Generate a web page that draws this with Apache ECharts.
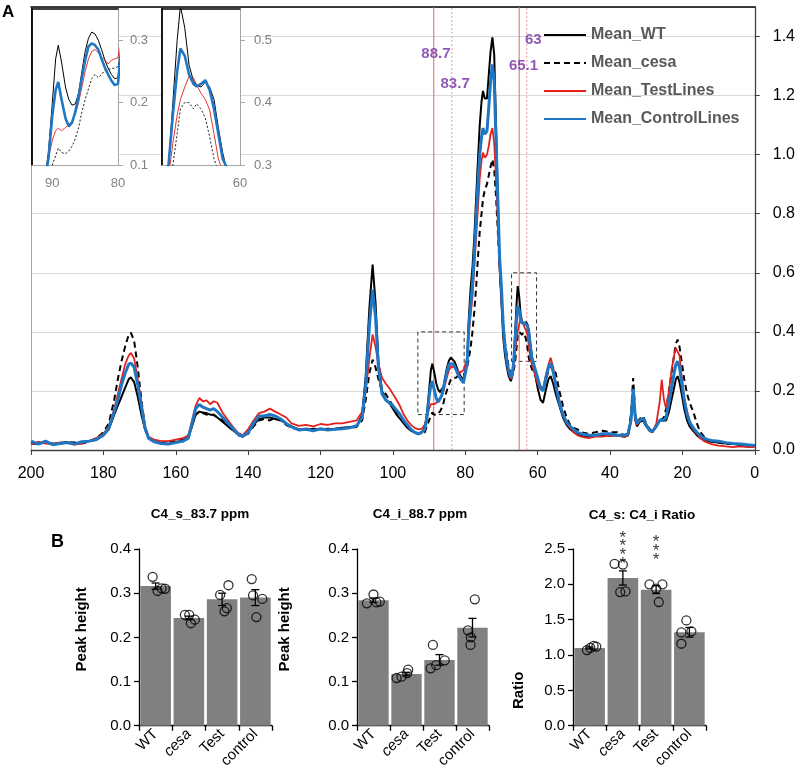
<!DOCTYPE html>
<html>
<head>
<meta charset="UTF-8">
<title>Spectra and peak heights</title>
<script src="https://cdn.jsdelivr.net/npm/echarts@6/dist/echarts.min.js"></script>
<style>
    html, body { margin: 0; padding: 0; background: #fff; }
    #main { width: 798px; height: 771px; }
</style>
</head>
<body>
<div id="main"></div>
<script>
// chemical shift (ppm), shared by the four mean spectra
var ppm = [200,198,196,194,192,190,188,186,184,182,
    180,178.5,177,176,175,174,173,172.4,171.5,170.5,
    169.5,168.5,167.5,166,164,162,160,158,156.5,155.5,
    154.5,153.5,152.5,151.5,150.5,149.5,148.5,147,145.5,144,
    142.5,141.5,140,138.5,137,135.5,134,132.5,131,129.5,
    128,126,124,122,120,118,116,114,112,110,
    108.5,107.5,106.5,105.6,104.8,104,103,102,101,100,
    99,98,97,96,95,94,93,92,91.2,90.6,
    90,89.5,89.1,88.6,88,87.5,87,86.5,86,85.5,
    85,84.5,84,83.5,83,82.5,82,81.5,81,80.5,
    80,79.5,79,78.5,78,77.5,77,76.5,76,75.5,
    75.1,74.6,74,73.5,73,72.5,72,71.5,71,70.5,
    70,69.5,69,68.5,68,67.4,67,66.6,66.2,65.8,
    65.5,65.1,64.7,64.3,64,63.6,63.2,62.8,62.4,62,
    61.6,61.2,60.6,60,59.2,58.5,57.8,57,56.4,55.7,
    55,54,53,52,51,50,49,48,46,44,
    42,40,38,36,35,34.2,33.6,33,32.5,31.8,
    30.9,30,29,28.3,27.2,26.3,25.7,25.1,24.5,23.7,
    23,22.3,21.8,21.3,20.8,20.2,19.5,18.7,18,17,
    16,15,14,13,12,10,8,6,4,2,
    0];

var meanWT = [.025,.022,.025,.020,.024,.026,.022,.025,.030,.035,
    .050,.070,.120,.150,.180,.210,.240,.246,.230,.180,
    .120,.070,.040,.030,.025,.020,.028,.030,.045,.080,
    .120,.130,.127,.125,.120,.118,.110,.095,.080,.065,
    .050,.045,.060,.085,.105,.110,.110,.105,.100,.090,
    .080,.070,.068,.072,.070,.070,.072,.075,.078,.080,
    .120,.250,.480,.628,.500,.300,.200,.170,.160,.140,
    .120,.105,.090,.075,.065,.060,.055,.060,.075,.120,
    .200,.270,.292,.265,.225,.205,.196,.198,.215,.250,
    .282,.303,.313,.310,.300,.285,.268,.255,.245,.238,
    .240,.300,.450,.550,.620,.720,.850,.980,1.100,1.180,
    1.216,1.190,1.190,1.270,1.350,1.397,1.340,1.100,.850,.620,
    .500,.380,.320,.280,.250,.233,.250,.300,.400,.500,
    .555,.520,.460,.435,.428,.425,.433,.425,.405,.360,
    .320,.290,.250,.210,.170,.160,.200,.240,.250,.225,
    .190,.150,.110,.085,.070,.060,.055,.050,.045,.048,
    .050,.048,.050,.045,.050,.100,.190,.100,.080,.095,
    .100,.080,.065,.060,.080,.100,.100,.100,.100,.130,
    .170,.210,.240,.250,.230,.190,.140,.100,.080,.065,
    .050,.040,.035,.030,.028,.025,.022,.020,.018,.015,
    .015];

var meanCesa = [.022,.020,.025,.022,.020,.028,.025,.022,.028,.040,
    .060,.090,.170,.240,.300,.350,.390,.397,.370,.280,
    .170,.080,.040,.028,.022,.025,.030,.035,.050,.085,
    .120,.128,.125,.120,.118,.120,.110,.100,.080,.065,
    .055,.050,.055,.080,.100,.105,.100,.110,.105,.085,
    .075,.070,.072,.070,.068,.072,.070,.073,.075,.078,
    .100,.170,.260,.306,.280,.240,.200,.190,.170,.150,
    .130,.115,.095,.080,.070,.060,.055,.055,.060,.080,
    .100,.115,.127,.120,.118,.122,.130,.142,.160,.185,
    .205,.222,.238,.245,.240,.245,.252,.253,.255,.255,
    .258,.280,.310,.350,.400,.470,.550,.650,.740,.800,
    .850,.880,.900,.930,.960,.984,.950,.860,.740,.620,
    .520,.420,.360,.320,.280,.255,.255,.270,.300,.350,
    .390,.400,.400,.390,.398,.390,.375,.345,.310,.290,
    .275,.265,.250,.235,.215,.205,.230,.270,.285,.280,
    .260,.200,.150,.110,.085,.075,.070,.060,.055,.060,
    .065,.060,.060,.050,.055,.120,.244,.120,.090,.105,
    .115,.090,.070,.065,.080,.100,.105,.110,.140,.200,
    .260,.320,.360,.374,.350,.300,.240,.190,.160,.130,
    .090,.060,.045,.035,.030,.025,.020,.020,.018,.016,
    .015];

var meanTest = [.020,.028,.022,.020,.026,.024,.018,.022,.030,.040,
    .055,.080,.140,.190,.240,.290,.320,.329,.310,.240,
    .160,.080,.045,.035,.030,.030,.035,.040,.050,.100,
    .150,.176,.165,.168,.155,.165,.160,.125,.100,.075,
    .055,.050,.070,.100,.125,.130,.140,.130,.120,.110,
    .090,.082,.085,.080,.088,.085,.090,.090,.095,.100,
    .130,.200,.310,.391,.350,.290,.245,.225,.210,.190,
    .170,.148,.120,.100,.085,.075,.070,.072,.085,.110,
    .140,.155,.159,.155,.160,.165,.170,.182,.200,.225,
    .250,.270,.282,.285,.280,.273,.268,.262,.268,.270,
    .272,.310,.400,.460,.520,.620,.720,.820,.920,.980,
    1.007,.990,1.000,1.030,1.070,1.090,1.040,.920,.780,.620,
    .520,.420,.350,.300,.265,.240,.250,.280,.335,.380,
    .405,.425,.442,.440,.428,.415,.405,.388,.350,.310,
    .290,.275,.250,.225,.205,.205,.250,.290,.312,.280,
    .230,.170,.120,.090,.075,.060,.050,.045,.040,.045,
    .045,.050,.048,.045,.050,.100,.200,.100,.085,.100,
    .105,.085,.065,.060,.090,.160,.238,.170,.140,.200,
    .270,.320,.345,.351,.320,.250,.180,.130,.100,.070,
    .055,.040,.030,.025,.020,.015,.012,.010,.012,.010,
    .010];

var meanControl = [.030,.020,.030,.018,.022,.025,.020,.028,.030,.035,
    .050,.075,.130,.170,.220,.260,.290,.295,.280,.220,
    .150,.075,.040,.028,.022,.020,.025,.030,.040,.090,
    .140,.154,.145,.140,.135,.140,.130,.110,.090,.070,
    .050,.047,.058,.090,.115,.115,.120,.115,.105,.090,
    .078,.068,.070,.065,.072,.068,.070,.072,.075,.082,
    .110,.220,.420,.543,.450,.280,.190,.170,.160,.150,
    .135,.120,.100,.085,.070,.060,.055,.060,.070,.110,
    .180,.220,.233,.205,.175,.162,.168,.185,.210,.240,
    .268,.290,.295,.292,.285,.270,.256,.245,.235,.228,
    .230,.290,.420,.490,.560,.660,.780,.900,1.000,1.060,
    1.090,1.070,1.080,1.160,1.250,1.306,1.250,1.050,.850,.650,
    .550,.420,.350,.300,.270,.245,.260,.300,.380,.450,
    .487,.475,.445,.430,.426,.430,.436,.420,.390,.350,
    .310,.295,.270,.245,.210,.200,.240,.280,.295,.265,
    .220,.160,.120,.095,.080,.070,.060,.055,.050,.050,
    .055,.055,.050,.050,.055,.100,.207,.110,.090,.100,
    .108,.085,.065,.063,.080,.100,.103,.100,.110,.160,
    .210,.260,.290,.300,.280,.230,.170,.120,.095,.075,
    .060,.048,.040,.035,.032,.030,.025,.022,.020,.018,
    .015];

var specNames = ['Mean_WT', 'Mean_cesa', 'Mean_TestLines', 'Mean_ControlLines'];

// marked peaks (ppm) and where their labels sit
var peakLines = [88.7, 83.7, 65.1, 63];
var peakSolid = [true, false, true, false];
var peakLabels = [[88.1, 1.34, '88.7'], [82.8, 1.24, '83.7'], [63.9, 1.30, '65.1'], [61.2, 1.39, '63']];
// zoomed regions: [ppm from, value from, ppm to, value to]
var zoomBoxes = [[93.1, 0.12, 80.3, 0.40], [67.2, 0.30, 60.3, 0.60]];

// panel B
var groups = ['WT', 'cesa', 'Test', 'control'];
var c4sMean = [0.316, 0.244, 0.286, 0.290];
var c4sSem = [0.007, 0.004, 0.014, 0.018];
var c4sPoints = [[0.337, 0.305, 0.311, 0.310], [0.251, 0.251, 0.232, 0.240],
    [0.296, 0.318, 0.266, 0.259], [0.332, 0.295, 0.287, 0.246]];
var c4sOffset = [[-0.09, 0.06, 0.18, 0.28], [-0.12, 0.01, 0.06, 0.18],
    [-0.06, 0.19, 0.14, 0.07], [-0.11, -0.07, 0.21, 0.03]];
var c4iMean = [0.284, 0.117, 0.149, 0.222];
var c4iSem = [0.005, 0.004, 0.012, 0.021];
var c4iPoints = [[0.277, 0.297, 0.279, 0.281], [0.108, 0.111, 0.127, 0.119],
    [0.183, 0.130, 0.137, 0.148], [0.286, 0.216, 0.200, 0.183]];
var c4iOffset = [[-0.2, 0, 0.09, 0.19], [-0.3, -0.15, 0.05, 0.02],
    [-0.2, -0.27, -0.1, 0.16], [0.07, -0.14, -0.05, -0.06]];
var ratioMean = [1.10, 2.09, 1.925, 1.322];
var ratioSem = [0.013, 0.10, 0.055, 0.068];
var ratioPoints = [[1.07, 1.10, 1.13, 1.12], [2.29, 2.28, 1.89, 1.90],
    [2.00, 1.94, 2.00, 1.75], [1.49, 1.32, 1.335, 1.16]];
var ratioOffset = [[-0.08, 0.02, 0.12, 0.2], [-0.25, 0, -0.08, 0.08],
    [-0.2, 0, 0.19, 0.08], [-0.09, -0.24, 0.06, -0.24]];
var ratioStars = ['', '****', '***', ''];

var FONT = '"Liberation Sans", Arial, sans-serif';
var chart = echarts.init(document.getElementById('main'));

function pairs(vals) {
    return ppm.map(function (p, i) { return [p, vals[i]]; });
}

var spectra = [meanWT, meanCesa, meanTest, meanControl];
var specColors = ['#000000', '#000000', '#e3201b', '#1f77c4'];
var mainWidths = [2, 2, 1.8, 3];
var insetWidths = [1, 0.9, 0.9, 2.6];
var mainDash = ['solid', [6, 4], 'solid', 'solid'];
var insetDash = ['solid', [2, 2], 'solid', 'solid'];

var series = [];

// red reference lines at the marked shifts (full height of the y axis)
peakLines.forEach(function (v, i) {
    series.push({
        type: 'line', xAxisIndex: 0, yAxisIndex: 0, symbol: 'none', silent: true, z: 1,
        data: [[v, 0], [v, 1.5]],
        lineStyle: peakSolid[i] ? { color: '#e06666', width: 1, type: 'solid' }
                                : { color: '#ee9a9a', width: 1, type: [2, 2] }
    });
});

spectra.forEach(function (vals, k) {
    series.push({
        name: specNames[k], type: 'line', xAxisIndex: 0, yAxisIndex: 0,
        data: pairs(vals), symbol: 'none', z: 2,
        lineStyle: { color: specColors[k], width: mainWidths[k], type: mainDash[k] },
        itemStyle: { color: specColors[k] }
    });
});
[2, 3].forEach(function (ax) {
    spectra.forEach(function (vals, k) {
        series.push({
            name: specNames[k], type: 'line', xAxisIndex: ax, yAxisIndex: ax,
            data: pairs(vals), symbol: 'none', z: 5, clip: true,
            lineStyle: { color: specColors[k], width: insetWidths[k], type: insetDash[k] },
            itemStyle: { color: specColors[k] }
        });
    });
});

// peak labels and dashed zoom boxes
series.push({
    type: 'scatter', xAxisIndex: 0, yAxisIndex: 0, z: 3,
    data: peakLabels.map(function (d) { return { name: d[2], value: [d[0], d[1]] }; }),
    symbolSize: 1, itemStyle: { color: 'rgba(0,0,0,0)' },
    label: {
        show: true, position: 'inside', formatter: function (p) { return p.name; },
        color: '#7030a0', fontWeight: 'bold', fontSize: 15, fontFamily: FONT
    },
    markArea: {
        silent: true, label: { show: false },
        itemStyle: { color: 'rgba(0,0,0,0)', borderColor: '#333', borderWidth: 1, borderType: [4, 3] },
        data: zoomBoxes.map(function (b) {
            return [{ coord: [b[0], b[1]] }, { coord: [b[2], b[3]] }];
        })
    }
});

// panel B bars, error bars and dots
function errorItem(params, api) {
    var i = api.value(0);
    var lo = api.coord([i, api.value(1)]);
    var hi = api.coord([i, api.value(2)]);
    var st = { stroke: '#000', lineWidth: 1.3 };
    return {
        type: 'group', children: [
            { type: 'line', shape: { x1: lo[0], y1: lo[1], x2: hi[0], y2: hi[1] }, style: st },
            { type: 'line', shape: { x1: hi[0] - 4, y1: hi[1], x2: hi[0] + 4, y2: hi[1] }, style: st },
            { type: 'line', shape: { x1: lo[0] - 4, y1: lo[1], x2: lo[0] + 4, y2: lo[1] }, style: st }
        ]
    };
}
var panels = [
    { mean: c4sMean, sem: c4sSem, pts: c4sPoints, off: c4sOffset },
    { mean: c4iMean, sem: c4iSem, pts: c4iPoints, off: c4iOffset },
    { mean: ratioMean, sem: ratioSem, pts: ratioPoints, off: ratioOffset }
];
panels.forEach(function (pn, k) {
    series.push({
        type: 'bar', xAxisIndex: 6 + k, yAxisIndex: 6 + k, data: pn.mean,
        barWidth: '92%', itemStyle: { color: '#808080' }
    });
    series.push({
        type: 'custom', xAxisIndex: 6 + k, yAxisIndex: 6 + k, renderItem: errorItem, z: 3,
        encode: { x: 0, y: [1, 2] },
        data: pn.mean.map(function (m, i) { return [i, m - pn.sem[i], m + pn.sem[i]]; })
    });
    var dots = [];
    pn.pts.forEach(function (arr, i) {
        arr.forEach(function (v, j) { dots.push([i + pn.off[i][j], v]); });
    });
    series.push({
        type: 'scatter', xAxisIndex: 9 + k, yAxisIndex: 6 + k, data: dots, z: 4,
        symbol: 'circle', symbolSize: 9,
        itemStyle: { color: 'rgba(0,0,0,0)', borderColor: '#000', borderWidth: 1.3 }
    });
});
var starData = [];
ratioStars.forEach(function (s, i) {
    if (s) starData.push({ name: s, value: [i, 2.47] });
});
series.push({
    type: 'scatter', xAxisIndex: 11, yAxisIndex: 8, z: 4, symbolSize: 1, clip: false,
    itemStyle: { color: 'rgba(0,0,0,0)' },
    data: starData,
    label: {
        show: true, position: 'inside', color: '#000', fontSize: 17, lineHeight: 8.7, fontFamily: FONT,
        formatter: function (p) { return p.name.split('').join('\n'); }
    }
});

var grayAxis = { onZero: false, lineStyle: { color: '#a6a6a6', width: 1 } };
var noAxis = { show: false };

function catAxis(g) {
    return {
        type: 'category', gridIndex: g, data: groups,
        axisLine: { onZero: false, lineStyle: { color: '#000', width: 1.3 } },
        axisTick: { show: true, length: 5, lineStyle: { color: '#000', width: 1.3 } },
        axisLabel: {
            rotate: 45, fontSize: 15, color: '#000', fontFamily: FONT, margin: 6,
            formatter: function (v) { return v === 'cesa' ? '{i|cesa}' : v; },
            rich: { i: { fontStyle: 'italic', fontSize: 15, fontFamily: FONT } }
        }
    };
}
function hiddenX(g) {
    return { type: 'value', gridIndex: g, min: -0.5, max: 3.5, show: false,
        axisLine: { show: false, onZero: false } };
}
function barY(g, max, interval, name, gap, pad) {
    return {
        type: 'value', gridIndex: g, min: 0, max: max, interval: interval,
        axisLine: { show: true, onZero: false, lineStyle: { color: '#000', width: 1.3 } },
        axisTick: { show: true, length: 5, lineStyle: { color: '#000', width: 1.3 } },
        splitLine: { show: false },
        axisLabel: { fontSize: 15, color: '#000', fontFamily: FONT, margin: 8,
            formatter: function (v) { return v.toFixed(1); } },
        name: name, nameLocation: 'middle', nameGap: gap,
        nameTextStyle: { fontSize: 15, fontWeight: 'bold', color: '#000', fontFamily: FONT, padding: pad }
    };
}

var option = {
    animation: false,
    backgroundColor: '#fff',
    textStyle: { fontFamily: FONT },
    legend: {
        data: specNames, orient: 'vertical', left: 538, top: 22,
        itemWidth: 42, itemHeight: 14, itemGap: 12,
        itemStyle: { opacity: 0 },
        textStyle: { fontSize: 16, fontWeight: 'bold', color: '#595959', fontFamily: FONT }
    },
    graphic: [
        { type: 'text', x: 2, y: 4, style: { text: 'A', font: 'bold 17px ' + FONT, fill: '#000' } },
        { type: 'text', x: 51, y: 533, style: { text: 'B', font: 'bold 18px ' + FONT, fill: '#000' } },
        { type: 'text', x: 200, y: 514, style: { text: 'C4_s_83.7 ppm', font: 'bold 13.5px ' + FONT, fill: '#000', align: 'center', verticalAlign: 'middle' } },
        { type: 'text', x: 420, y: 514, style: { text: 'C4_i_88.7 ppm', font: 'bold 13.5px ' + FONT, fill: '#000', align: 'center', verticalAlign: 'middle' } },
        { type: 'text', x: 642, y: 515, style: { text: 'C4_s: C4_i Ratio', font: 'bold 13.5px ' + FONT, fill: '#000', align: 'center', verticalAlign: 'middle' } }
    ],
    grid: [
        { left: 31, right: 43, top: 7, height: 443 },
        { left: 32, top: 9, width: 86, height: 156, show: true, backgroundColor: '#fff', borderWidth: 0, z: 1 },
        { left: 162, top: 9, width: 78, height: 156, show: true, backgroundColor: '#fff', borderWidth: 0, z: 1 },
        { left: 139, top: 549, width: 133, height: 182 },
        { left: 357, top: 549, width: 132, height: 182 },
        { left: 573, top: 549, width: 133, height: 182 }
    ],
    xAxis: [
        { type: 'value', gridIndex: 0, min: 0, max: 200, interval: 20, inverse: true,
            axisLine: { onZero: false, lineStyle: { color: '#404040', width: 1.3 } },
            axisTick: { show: true, length: 5, lineStyle: { color: '#404040' } },
            splitLine: { show: false },
            axisLabel: { fontSize: 16, color: '#000', margin: 16, fontFamily: FONT } },
        { type: 'value', gridIndex: 0, position: 'top', min: 0, max: 1,
            axisLine: { onZero: false, lineStyle: { color: '#000', width: 1.5 } },
            axisTick: noAxis, axisLabel: noAxis, splitLine: noAxis },
        { type: 'value', gridIndex: 1, min: 80, max: 93.1, interval: 10, inverse: true, z: 3,
            axisLine: grayAxis, axisTick: noAxis, splitLine: noAxis,
            axisLabel: { fontSize: 13, color: '#808080', margin: 12, showMaxLabel: false, fontFamily: FONT } },
        { type: 'value', gridIndex: 2, min: 60, max: 67.2, interval: 10, inverse: true, z: 3,
            axisLine: grayAxis, axisTick: noAxis, splitLine: noAxis,
            axisLabel: { fontSize: 13, color: '#808080', margin: 12, showMaxLabel: false, fontFamily: FONT } },
        { type: 'value', gridIndex: 1, position: 'top', min: 0, max: 1, z: 3,
            axisLine: { onZero: false, lineStyle: { color: '#000', width: 1.5 } }, axisTick: noAxis, axisLabel: noAxis, splitLine: noAxis },
        { type: 'value', gridIndex: 2, position: 'top', min: 0, max: 1, z: 3,
            axisLine: { onZero: false, lineStyle: { color: '#000', width: 1.5 } }, axisTick: noAxis, axisLabel: noAxis, splitLine: noAxis },
        catAxis(3), catAxis(4), catAxis(5),
        hiddenX(3), hiddenX(4), hiddenX(5)
    ],
    yAxis: [
        { type: 'value', gridIndex: 0, position: 'right', min: 0, max: 1.5, interval: 0.2,
            axisLine: { show: true, onZero: false, lineStyle: { color: '#404040', width: 1.3 } },
            axisTick: { show: true, length: 5, lineStyle: { color: '#404040' } },
            splitLine: { show: true, lineStyle: { color: '#d9d9d9', width: 1 } },
            axisLabel: { fontSize: 16, color: '#000', margin: 18, showMaxLabel: false, fontFamily: FONT,
                formatter: function (v) { return v.toFixed(1); } } },
        { type: 'value', gridIndex: 0, position: 'left', min: 0, max: 1.5,
            axisLine: { show: true, onZero: false, lineStyle: { color: '#a6a6a6' } },
            axisTick: noAxis, axisLabel: noAxis, splitLine: noAxis },
        { type: 'value', gridIndex: 1, position: 'right', min: 0.1, max: 0.35, interval: 0.1, z: 3,
            axisLine: { show: true, onZero: false, lineStyle: { color: '#a6a6a6' } },
            axisTick: { show: true, length: 5, lineStyle: { color: '#a6a6a6' } }, splitLine: noAxis,
            axisLabel: { fontSize: 13, color: '#808080', margin: 12, showMaxLabel: false, fontFamily: FONT,
                formatter: function (v) { return v.toFixed(1); } } },
        { type: 'value', gridIndex: 2, position: 'right', min: 0.3, max: 0.55, interval: 0.1, z: 3,
            axisLine: { show: true, onZero: false, lineStyle: { color: '#a6a6a6' } },
            axisTick: { show: true, length: 5, lineStyle: { color: '#a6a6a6' } }, splitLine: noAxis,
            axisLabel: { fontSize: 13, color: '#808080', margin: 14, showMaxLabel: false, fontFamily: FONT,
                formatter: function (v) { return v.toFixed(1); } } },
        { type: 'value', gridIndex: 1, position: 'left', min: 0, max: 1, z: 3,
            axisLine: { show: true, onZero: false, lineStyle: { color: '#000', width: 1.8 } }, axisTick: noAxis, axisLabel: noAxis, splitLine: noAxis },
        { type: 'value', gridIndex: 2, position: 'left', min: 0, max: 1, z: 3,
            axisLine: { show: true, onZero: false, lineStyle: { color: '#000', width: 1.8 } }, axisTick: noAxis, axisLabel: noAxis, splitLine: noAxis },
        barY(3, 0.4, 0.1, 'Peak height', 50, [0, 0, 0, 16]),
        barY(4, 0.4, 0.1, 'Peak height', 65, [0, 0, 0, 16]),
        barY(5, 2.5, 0.5, 'Ratio', 47, [0, 106, 0, 0])
    ],
    series: series
};
chart.setOption(option);
</script>
</body>
</html>
